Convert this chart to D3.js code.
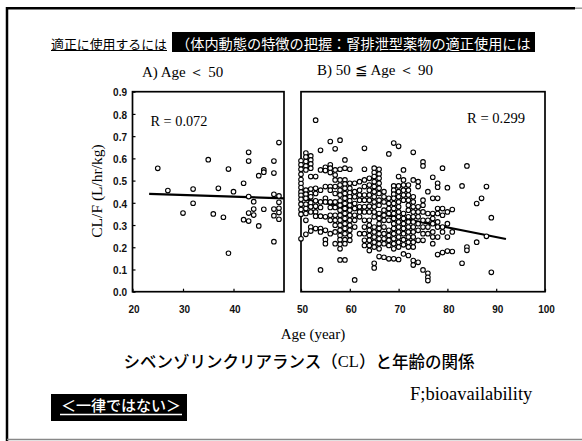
<!DOCTYPE html>
<html>
<head>
<meta charset="utf-8">
<script src="https://cdn.jsdelivr.net/npm/d3@7"></script>
<style>
  html, body { margin: 0; padding: 0; background: #fff; overflow: hidden; }
  svg { display: block; }
</style>
</head>
<body>
<svg id="chart" width="582" height="441"></svg>
<script>
// ---- Data -------------------------------------------------------------
// A) patients younger than 50: [age, CL/F]
const groupA = [
  [25, 0.555], [27, 0.455], [30, 0.354], [32, 0.462], [32, 0.398],
  [35, 0.594], [36, 0.350], [37, 0.465], [38, 0.335], [39, 0.552],
  [39, 0.173], [40, 0.450], [42, 0.488], [42, 0.324],
  [43, 0.627], [43, 0.588], [43, 0.428], [43, 0.354], [43, 0.318],
  [44, 0.405], [44, 0.372], [44, 0.345], [45, 0.522], [45, 0.296],
  [46, 0.548], [46, 0.538], [46, 0.371],
  [48, 0.588], [48, 0.534], [48, 0.438], [48, 0.372], [48, 0.342], [48, 0.225],
  [49, 0.671], [49, 0.431], [49, 0.402], [49, 0.375], [49, 0.356], [49, 0.326]
];

// B) patients aged 50-89, one column of CL/F values per age
const groupB50s = [
  [50, [0.589, 0.571, 0.551, 0.528, 0.505, 0.487, 0.469, 0.449, 0.434, 0.416, 0.394, 0.370, 0.349, 0.238]],
  [51, [0.624, 0.606, 0.586, 0.566, 0.548, 0.457, 0.439, 0.420, 0.394, 0.374, 0.352, 0.321, 0.258]],
  [52, [0.611, 0.593, 0.575, 0.556, 0.518, 0.462, 0.442, 0.427, 0.400, 0.382, 0.359, 0.291, 0.273]],
  [53, [0.772, 0.518, 0.465, 0.442, 0.409, 0.385, 0.359, 0.340, 0.284]],
  [54, [0.636, 0.548, 0.457, 0.404, 0.379, 0.340, 0.284, 0.269, 0.098]],
  [55, [0.560, 0.545, 0.473, 0.420, 0.404, 0.337, 0.276, 0.234, 0.216]],
  [56, [0.676, 0.571, 0.556, 0.536, 0.473, 0.457, 0.404, 0.379, 0.344, 0.321, 0.261]],
  [57, [0.643, 0.548, 0.525, 0.503, 0.473, 0.442, 0.404, 0.379, 0.344, 0.321, 0.299, 0.269, 0.216]],
  [58, [0.682, 0.551, 0.503, 0.480, 0.457, 0.435, 0.409, 0.389, 0.367, 0.344, 0.321, 0.299, 0.276, 0.253, 0.234, 0.213, 0.193, 0.143]],
  [59, [0.593, 0.556, 0.503, 0.485, 0.465, 0.442, 0.420, 0.397, 0.374, 0.352, 0.329, 0.306, 0.284, 0.261, 0.234, 0.216, 0.143]]
];
const groupB60s = [
  [60, [0.551, 0.488, 0.465, 0.445, 0.427, 0.409, 0.389, 0.367, 0.344, 0.321, 0.299, 0.276, 0.253, 0.231]],
  [61, [0.488, 0.450, 0.427, 0.397, 0.374, 0.344, 0.321, 0.291, 0.053]],
  [62, [0.495, 0.457, 0.435, 0.412, 0.382, 0.359, 0.337, 0.261]],
  [63, [0.645, 0.551, 0.503, 0.473, 0.435, 0.412, 0.382, 0.359, 0.321, 0.291, 0.261, 0.231, 0.208]],
  [64, [0.510, 0.480, 0.457, 0.435, 0.412, 0.385, 0.359, 0.321, 0.299, 0.276, 0.253, 0.231, 0.208, 0.185]],
  [65, [0.556, 0.536, 0.518, 0.495, 0.473, 0.450, 0.427, 0.404, 0.382, 0.359, 0.337, 0.291, 0.269, 0.246, 0.223, 0.201, 0.128, 0.107]],
  [66, [0.551, 0.530, 0.510, 0.488, 0.465, 0.442, 0.412, 0.389, 0.352, 0.329, 0.306, 0.284, 0.261, 0.238, 0.216, 0.193, 0.158]],
  [67, [0.450, 0.427, 0.404, 0.367, 0.344, 0.321, 0.291, 0.261, 0.238, 0.216, 0.155]],
  [68, [0.620, 0.420, 0.397, 0.374, 0.352, 0.321, 0.276, 0.253, 0.231, 0.208, 0.148]],
  [69, [0.669, 0.476, 0.457, 0.439, 0.420, 0.397, 0.374, 0.352, 0.329, 0.306, 0.284, 0.261, 0.238, 0.216, 0.193, 0.148]]
];
const groupB70s = [
  [70, [0.654, 0.518, 0.476, 0.450, 0.427, 0.404, 0.382, 0.359, 0.337, 0.314, 0.291, 0.269, 0.246, 0.223, 0.201, 0.145]],
  [71, [0.548, 0.503, 0.480, 0.457, 0.435, 0.412, 0.352, 0.329, 0.306, 0.284, 0.261, 0.234, 0.211, 0.170]],
  [72, [0.480, 0.457, 0.435, 0.412, 0.389, 0.367, 0.337, 0.314, 0.291, 0.269, 0.246, 0.223, 0.201, 0.163]],
  [73, [0.627, 0.503, 0.427, 0.404, 0.382, 0.359, 0.337, 0.314, 0.291, 0.269, 0.246, 0.223, 0.201, 0.140, 0.120]],
  [74, [0.495, 0.473, 0.382, 0.359, 0.337, 0.306, 0.276, 0.231, 0.132]],
  [75, [0.584, 0.566, 0.412, 0.389, 0.359, 0.321, 0.291, 0.261, 0.231, 0.098]],
  [76, [0.450, 0.352, 0.321, 0.291, 0.261, 0.083, 0.065, 0.050]],
  [77, [0.515, 0.420, 0.352, 0.329, 0.306, 0.269, 0.246, 0.216]],
  [78, [0.488, 0.470, 0.420, 0.374, 0.352, 0.314, 0.291, 0.246, 0.167]],
  [79, [0.556, 0.374, 0.344, 0.291, 0.269, 0.176]]
];
const groupB80s = [
  [80, [0.468, 0.359, 0.306, 0.246, 0.183]],
  [81, [0.370, 0.269, 0.181]],
  [83, [0.476, 0.128]],
  [84, [0.566, 0.201, 0.186]],
  [86, [0.397, 0.223]],
  [87, [0.420]],
  [88, [0.473, 0.249]],
  [89, [0.333, 0.087]]
];

// regression lines, as end points [age, CL/F]
const fitA = [[23.3, 0.440], [50, 0.420]];
const fitB = [[50, 0.420], [92, 0.237]];

const rValues = ["R = 0.072", "R = 0.299"];
const panelTitles = ["A) Age ＜ 50", "B) 50 ≦ Age ＜ 90"];
const yTicks = [0, 0.1, 0.2, 0.3, 0.4, 0.5, 0.6, 0.7, 0.8, 0.9];
const xTicksA = [20, 30, 40];
const xTicksB = [50, 60, 70, 80, 90, 100];

const headerLabel = "適正に使用するには";
const headerBanner = "（体内動態の特徴の把握：腎排泄型薬物の適正使用には";
const yTitle = "CL/F (L/hr/kg)";
const xTitle = "Age (year)";
const footnote = "F;bioavailability";
const badge = "＜一律ではない＞";

// ---- Drawing ----------------------------------------------------------
const svg = d3.select("#chart");
const SERIF = "'Liberation Serif', 'Times New Roman', Times, serif";
const SANS = "'Liberation Sans', Arial, sans-serif";
const JP = "'Noto Sans CJK JP', 'Noto Sans CJK SC', sans-serif";

// page frame
svg.append("line").attr("x1", 7).attr("x2", 7).attr("y1", 7).attr("y2", 441)
  .attr("stroke", "#000").attr("stroke-width", 2.5);
svg.append("line").attr("x1", 6).attr("x2", 575).attr("y1", 8.2).attr("y2", 8.2)
  .attr("stroke", "#000").attr("stroke-width", 2.4);
svg.append("line").attr("x1", 575).attr("x2", 582).attr("y1", 8.2).attr("y2", 8.2)
  .attr("stroke", "#999").attr("stroke-width", 1.5);
svg.append("line").attr("x1", 7).attr("x2", 582).attr("y1", 439.5).attr("y2", 439.5)
  .attr("stroke", "#888").attr("stroke-width", 1.3);

// header
svg.append("text").attr("x", 51).attr("y", 43.5)
  .attr("dominant-baseline", "central")
  .style("font-family", JP).style("font-size", "12.9px").attr("fill", "#000")
  .text(headerLabel);
svg.append("line").attr("x1", 51).attr("x2", 167).attr("y1", 50.5).attr("y2", 50.5)
  .attr("stroke", "#000").attr("stroke-width", 1);
svg.append("rect").attr("x", 172).attr("y", 32).attr("width", 363).attr("height", 20)
  .attr("fill", "#000");
svg.append("text").attr("x", 176).attr("y", 42.5)
  .attr("dominant-baseline", "central")
  .style("font-family", JP).style("font-size", "14.2px").attr("fill", "#fff")
  .text(headerBanner);

// scales
const y = d3.scaleLinear().domain([0, 0.9]).range([291.7, 91.7]);
const xA = d3.scaleLinear().domain([20, 50]).range([132.5, 284]);
const xB = d3.scaleLinear().domain([50, 100]).range([301, 545]);

const flatten = cols => cols.flatMap(([age, vals]) => vals.map(v => [age, v]));
const pointsB = flatten([...groupB50s, ...groupB60s, ...groupB70s, ...groupB80s]);

function panel(x, xTicks, pts, fit, showY) {
  const g = svg.append("g");
  const [x0, x1] = x.range();

  // x axis with inward ticks
  const ax = g.append("g").attr("transform", `translate(0,${y(0)})`)
    .call(d3.axisBottom(x).tickValues(xTicks).tickSizeInner(-3).tickSizeOuter(0)
      .tickPadding(14).tickFormat(d3.format("d")));
  ax.select(".domain").remove();
  ax.selectAll("line").attr("stroke", "#000").attr("stroke-width", 1.2);
  ax.selectAll("text").style("font-family", SANS).style("font-size", "10px")
    .style("font-weight", "bold").attr("fill", "#111").attr("dx", "1");

  if (showY) {
    const ay = g.append("g").attr("transform", `translate(${x0},0)`)
      .call(d3.axisLeft(y).tickValues(yTicks).tickSizeInner(-3).tickSizeOuter(0)
        .tickPadding(5.5).tickFormat(d3.format(".1f")));
    ay.select(".domain").remove();
    ay.selectAll("line").attr("stroke", "#000").attr("stroke-width", 1.2);
    ay.selectAll("text").style("font-family", SANS).style("font-size", "10px")
      .style("font-weight", "bold").attr("fill", "#111").attr("dy", "0.42em");
  }

  // plot frame
  g.append("rect").attr("x", x0).attr("y", y(0.9))
    .attr("width", x1 - x0).attr("height", y(0) - y(0.9))
    .attr("fill", "none").attr("stroke", "#000").attr("stroke-width", 1.7);

  // regression line
  g.append("path").datum(fit)
    .attr("d", d3.line().x(d => x(d[0])).y(d => y(d[1])))
    .attr("fill", "none").attr("stroke", "#000").attr("stroke-width", 2.2);

  // observations
  g.append("g").selectAll("circle").data(pts).join("circle")
    .attr("cx", d => x(d[0])).attr("cy", d => y(d[1])).attr("r", 2.3)
    .attr("fill", "#fff").attr("stroke", "#000").attr("stroke-width", 1.1);
  return g;
}

const gA = panel(xA, xTicksA, groupA, fitA, true);
const gB = panel(xB, xTicksB, pointsB, fitB, false);

// correlation labels
svg.append("text").attr("x", 150.5).attr("y", 126)
  .style("font-family", SERIF).style("font-size", "14.3px").attr("fill", "#000")
  .text(rValues[0]);
svg.append("text").attr("x", 467).attr("y", 123)
  .style("font-family", SERIF).style("font-size", "14.6px").attr("fill", "#000")
  .text(rValues[1]);

// panel titles
svg.append("text").attr("x", 142).attr("y", 77)
  .style("font-family", SERIF).style("font-size", "15px").attr("fill", "#000")
  .text(panelTitles[0]);
svg.append("text").attr("x", 317).attr("y", 75)
  .style("font-family", SERIF).style("font-size", "15px").attr("fill", "#000")
  .text(panelTitles[1]);

// axis titles
svg.append("text").attr("transform", "translate(102,191) rotate(-90)")
  .attr("text-anchor", "middle")
  .style("font-family", SERIF).style("font-size", "15.5px").attr("fill", "#000")
  .text(yTitle);
svg.append("text").attr("x", 313).attr("y", 339)
  .attr("text-anchor", "middle")
  .style("font-family", SERIF).style("font-size", "15px").attr("fill", "#000")
  .text(xTitle);

// chart title
const title = svg.append("text").attr("x", 299).attr("y", 360.5)
  .attr("text-anchor", "middle").attr("dominant-baseline", "central")
  .style("font-family", JP).style("font-size", "16.5px").style("font-weight", 500)
  .attr("fill", "#000");
title.append("tspan").text("シベンゾリンクリアランス（");
title.append("tspan").style("font-family", SERIF).text("CL");
title.append("tspan").text("）と年齢の関係");

// footnote
svg.append("text").attr("x", 410).attr("y", 400)
  .style("font-family", SERIF).style("font-size", "18.5px").attr("fill", "#000")
  .text(footnote);

// badge
svg.append("rect").attr("x", 51).attr("y", 394).attr("width", 136).attr("height", 27)
  .attr("fill", "#000");
svg.append("text").attr("x", 121).attr("y", 404.5)
  .attr("text-anchor", "middle").attr("dominant-baseline", "central")
  .style("font-family", JP).style("font-size", "15px").style("font-weight", 500)
  .attr("fill", "#fff").text(badge);
svg.append("line").attr("x1", 60).attr("x2", 182).attr("y1", 414.5).attr("y2", 414.5)
  .attr("stroke", "#fff").attr("stroke-width", 1.3);
</script>
</body>
</html>
